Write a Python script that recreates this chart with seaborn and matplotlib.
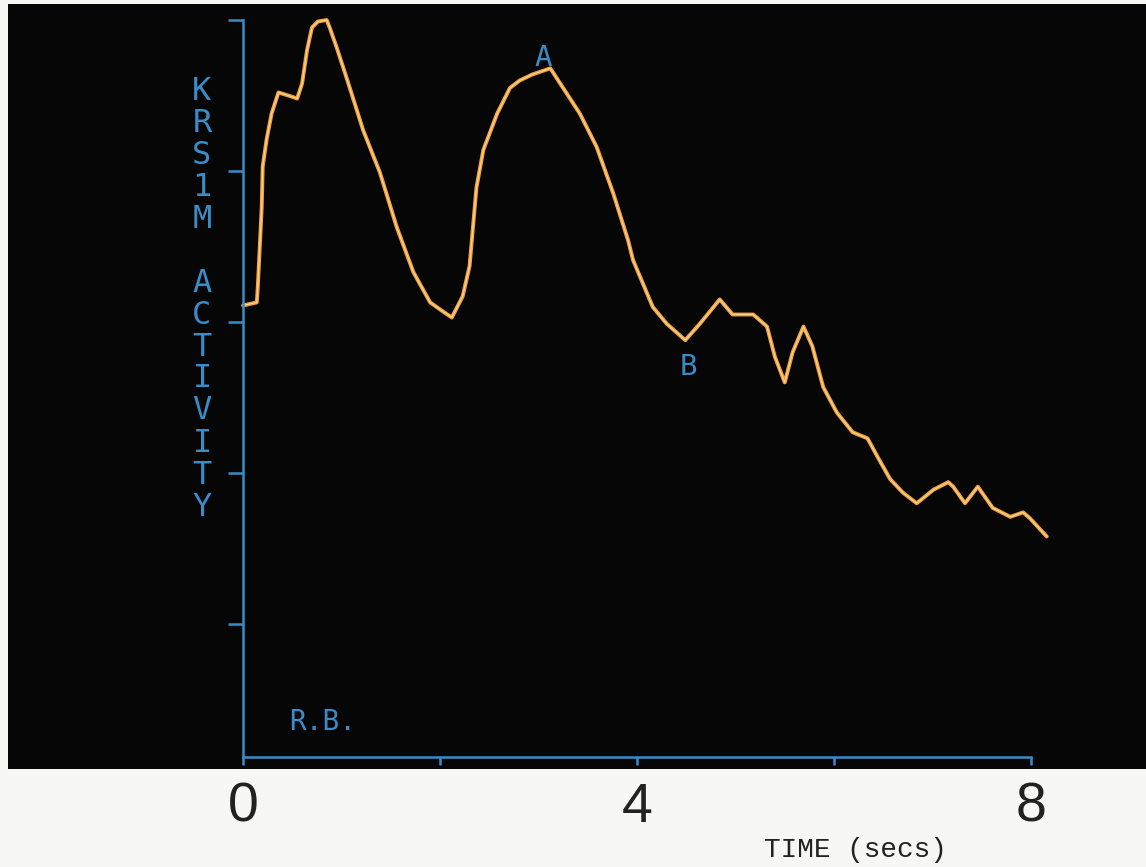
import matplotlib
matplotlib.use("Agg")
import matplotlib.pyplot as plt
from matplotlib.patches import Rectangle
import seaborn as sns
import pandas as pd

# ---- data ----
time_s = [0.00, 0.14, 0.15, 0.19, 0.20, 0.24, 0.29, 0.36, 0.46, 0.55, 0.60, 0.65,
          0.70, 0.76, 0.85, 0.88, 0.95, 1.06, 1.22, 1.39, 1.56, 1.73, 1.90, 2.03,
          2.12, 2.23, 2.30, 2.37, 2.44, 2.58, 2.71, 2.81, 2.94, 3.12, 3.25, 3.42,
          3.59, 3.76, 3.91, 3.96, 4.16, 4.30, 4.49, 4.64, 4.84, 4.97, 5.18, 5.32,
          5.40, 5.50, 5.58, 5.69, 5.78, 5.89, 6.03, 6.19, 6.34, 6.44, 6.57, 6.70,
          6.84, 7.01, 7.16, 7.21, 7.33, 7.46, 7.61, 7.79, 7.92, 7.99, 8.16]
activity = [3.11, 3.13, 3.23, 3.76, 4.03, 4.21, 4.38, 4.52, 4.50, 4.48, 4.58, 4.80,
            4.95, 4.99, 5.00, 4.95, 4.82, 4.60, 4.27, 3.99, 3.63, 3.33, 3.13, 3.07,
            3.03, 3.17, 3.37, 3.89, 4.14, 4.38, 4.55, 4.60, 4.64, 4.68, 4.55, 4.38,
            4.16, 3.85, 3.54, 3.41, 3.10, 2.99, 2.88, 2.99, 3.15, 3.05, 3.05, 2.97,
            2.77, 2.60, 2.80, 2.97, 2.84, 2.57, 2.40, 2.27, 2.23, 2.11, 1.96, 1.87,
            1.80, 1.89, 1.94, 1.91, 1.80, 1.91, 1.77, 1.71, 1.74, 1.70, 1.58]
x_ticks = [0, 2, 4, 6, 8]
x_tick_labels = ["0", "", "4", "", "8"]
y_ticks = [1, 2, 3, 4, 5]
y_label = "KRS1M ACTIVITY"
x_label = "TIME (secs)"
annotations = [("A", 3.05, 4.75), ("B", 4.52, 2.70)]
corner_note = ("R.B.", 0.47, 0.355)

df = pd.DataFrame({"time": time_s, "activity": activity})

# ---- style ----
sns.set_style("ticks")
plt.rcParams["font.family"] = ["DejaVu Sans"]

BLUE = "#3a8cc8"
ORANGE = "#f2a044"
CORE = "#ffd98a"
BG = "#060606"

W, H = 1146, 867
fig = plt.figure(figsize=(W / 100, H / 100), dpi=100, facecolor="#f7f7f5")

# black screen area
fig.patches.append(Rectangle((8 / W, (H - 769) / H), 1 - 8 / W, (769 - 4) / H,
                             transform=fig.transFigure, facecolor=BG,
                             edgecolor="none", zorder=-10))

ax = fig.add_axes([243 / W, (H - 757) / H, 8.2 * 98.5 / W, 737 / H])
ax.set_facecolor("none")
ax.set_zorder(5)

sns.lineplot(data=df, x="time", y="activity", ax=ax, color=ORANGE,
             linewidth=2.8, sort=False, clip_on=False)
sns.lineplot(data=df, x="time", y="activity", ax=ax, color=CORE,
             linewidth=0.8, sort=False, clip_on=False)

ax.set_xlim(0, 8.2)
ax.set_ylim(0.12, 5.0)

for s in ["top", "right"]:
    ax.spines[s].set_visible(False)
for s in ["left", "bottom"]:
    ax.spines[s].set_color(BLUE)
    ax.spines[s].set_linewidth(1.8)
ax.spines["bottom"].set_bounds(0, 8)

ax.set_xticks(x_ticks)
ax.set_xticklabels(x_tick_labels, fontsize=40, family="Liberation Sans",
                   color="#222222")
ax.set_yticks(y_ticks)
ax.set_yticklabels([])
ax.tick_params(axis="x", direction="out", length=6, width=1.8, color=BLUE, pad=12)
ax.tick_params(axis="y", direction="out", length=11, width=1.8, color=BLUE)
ax.set_xlabel("")
ax.set_ylabel("")

# stacked vertical y label
letters = list(y_label)
y0 = 91
for i, ch in enumerate(letters):
    if ch == " ":
        continue
    fig.text(202 / W, 1 - (y0 + i * 32) / H, ch, color=BLUE, fontsize=23,
             family="DejaVu Sans Mono", ha="center", va="center", zorder=6)

# x label
fig.text(855 / W, 1 - 850 / H, x_label, family="Liberation Mono", fontsize=20,
         color="#222222", ha="center", va="center")

# annotations
for lab, xv, yv in annotations:
    ax.text(xv, yv, lab, color=BLUE, fontsize=21, family="DejaVu Sans Mono",
            ha="center", va="center")

ax.text(corner_note[1], corner_note[2], corner_note[0], color=BLUE, fontsize=20,
        family="DejaVu Sans Mono", ha="left", va="center")

fig.savefig("out.png", dpi=100, facecolor=fig.get_facecolor())
